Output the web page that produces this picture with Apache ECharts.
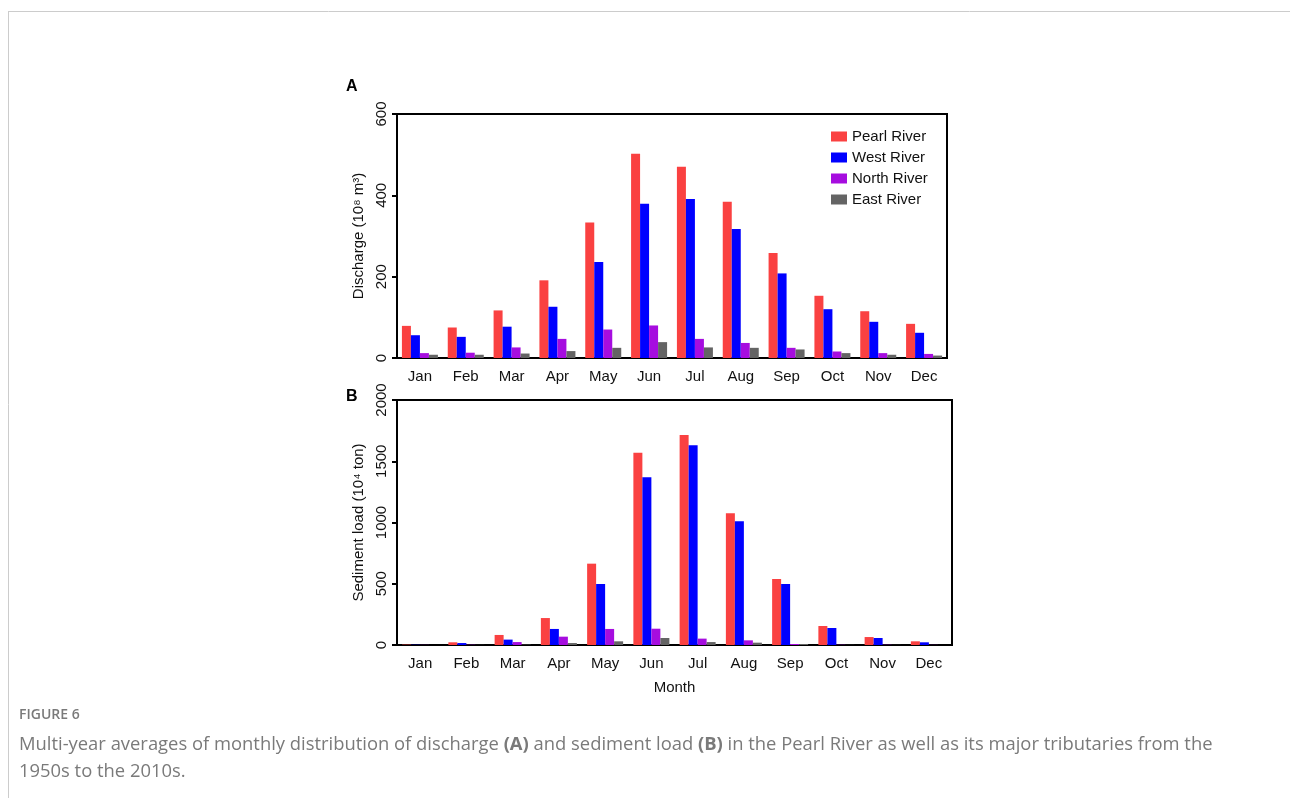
<!DOCTYPE html>
<html lang="en">
  <head>
    <meta charset="utf-8" />
    <title>Figure 6</title>
    <script src="https://cdn.jsdelivr.net/npm/echarts@6/dist/echarts.min.js"></script>
    <style>
      html, body { margin: 0; padding: 0; background: #fff; }
      #main { width: 1290px; height: 798px; }
    </style>
  </head>
  <body>
    <div id="main"></div>
    <script>
      // months on the x axis
      var months = ["Jan", "Feb", "Mar", "Apr", "May", "Jun", "Jul", "Aug", "Sep", "Oct", "Nov", "Dec"];
      var riverNames = ["Pearl River", "West River", "North River", "East River"];

      // (A) discharge, 10^8 m3
      var pearlQ = [79, 75, 117, 191, 333, 502, 470, 384, 258, 153, 115, 84];
      var westQ = [56, 52, 77, 126, 236, 379, 391, 317, 208, 120, 89, 62];
      var northQ = [12, 13, 26, 47, 70, 80, 47, 37, 25, 16, 12, 10];
      var eastQ = [8, 8, 11, 17, 25, 39, 26, 25, 21, 12, 8, 6];

      // (B) sediment load, 10^4 ton
      var pearlS = [3, 22, 82, 220, 664, 1570, 1714, 1075, 539, 155, 65, 30];
      var westS = [2, 16, 44, 131, 498, 1369, 1630, 1010, 498, 139, 57, 22];
      var northS = [1, 2, 24, 68, 131, 133, 52, 38, 8, 2, 2, 1];
      var eastS = [0, 1, 3, 16, 30, 57, 24, 19, 8, 1, 1, 0];

      var colors = ["#fa4141", "#0000ff", "#a60ddf", "#646464"];
      var font = "Liberation Sans";

      var chart = echarts.init(document.getElementById("main"), null, { renderer: "canvas" });

      function xAxis(idx, withName) {
        return {
          type: "category",
          gridIndex: idx,
          data: months,
          name: withName ? "Month" : "",
          nameLocation: "middle",
          nameGap: 35,
          nameTextStyle: { color: "#111", fontSize: 15, fontFamily: font },
          axisLine: { lineStyle: { color: "#000", width: 2 } },
          axisTick: { alignWithLabel: true, length: 5, lineStyle: { color: "#000", width: 2 } },
          axisLabel: { color: "#111", fontSize: 15, fontFamily: font, margin: 11 },
        };
      }

      function yAxis(idx, name, max, interval) {
        return {
          type: "value",
          gridIndex: idx,
          min: 0,
          max: max,
          interval: interval,
          name: name,
          nameLocation: "middle",
          nameGap: 31,
          nameTextStyle: { color: "#111", fontSize: 15, fontFamily: font },
          splitLine: { show: false },
          axisLine: { show: true, lineStyle: { color: "#000", width: 2 } },
          axisTick: { show: true, length: 5, lineStyle: { color: "#000", width: 2 } },
          axisLabel: {
            color: "#111", fontSize: 15, fontFamily: font, rotate: 90, margin: 8,
            formatter: function (v) { return String(v); },
          },
        };
      }

      function bars(idx, lists) {
        return lists.map(function (d, i) {
          return {
            name: riverNames[i],
            type: "bar",
            xAxisIndex: idx,
            yAxisIndex: idx,
            data: d,
            barWidth: 9,
            barGap: "0%",
            itemStyle: { color: colors[i] },
            emphasis: { disabled: true },
          };
        });
      }

      var option = {
        animation: false,
        color: colors,
        textStyle: { fontFamily: font },
        legend: {
          data: riverNames,
          orient: "vertical",
          left: 826,
          top: 124,
          itemWidth: 16,
          itemHeight: 10,
          itemGap: 6,
          icon: "rect",
          textStyle: { color: "#111", fontSize: 15, fontFamily: font },
        },
        grid: [
          { left: 397, top: 114, width: 550, height: 244, show: true, borderColor: "#000", borderWidth: 2 },
          { left: 397, top: 400, width: 555, height: 245, show: true, borderColor: "#000", borderWidth: 2 },
        ],
        xAxis: [xAxis(0, false), xAxis(1, true)],
        yAxis: [
          yAxis(0, "Discharge (10\u2078 m\u00b3)", 600, 200),
          yAxis(1, "Sediment load (10\u2074 ton)", 2000, 500),
        ],
        series: bars(0, [pearlQ, westQ, northQ, eastQ]).concat(bars(1, [pearlS, westS, northS, eastS])),
        graphic: [
          // page frame
          { type: "line", shape: { x1: 8, y1: 11.5, x2: 1290, y2: 11.5 }, style: { stroke: "#cccccc", lineWidth: 1 } },
          { type: "line", shape: { x1: 8.5, y1: 11, x2: 8.5, y2: 798 }, style: { stroke: "#cccccc", lineWidth: 1 } },
          // panel letters
          { type: "text", left: 346, top: 79, style: { text: "A", fontSize: 16, fontWeight: "bold", fontFamily: font, fill: "#000" } },
          { type: "text", left: 346, top: 389, style: { text: "B", fontSize: 16, fontWeight: "bold", fontFamily: font, fill: "#000" } },
          // caption
          { type: "text", left: 19, top: 708, style: { text: "FIGURE 6", fontSize: 14, fontWeight: 600, fontFamily: "Open Sans", fill: "#7a7a7a" } },
          {
            type: "text", left: 19, top: 736,
            style: {
              rich: {
                n: { fontSize: 18.4, fontFamily: "Open Sans", fill: "#7a7a7a", lineHeight: 27 },
                b: { fontSize: 18.4, fontFamily: "Open Sans", fontWeight: "bold", fill: "#7a7a7a", lineHeight: 27 },
              },
              text: "{n|Multi-year averages of monthly distribution of discharge }{b|(A)}{n| and sediment load }{b|(B)}{n| in the Pearl River as well as its major tributaries from the}\n{n|1950s to the 2010s.}",
            },
          },
        ],
      };

      chart.setOption(option);
    </script>
  </body>
</html>
